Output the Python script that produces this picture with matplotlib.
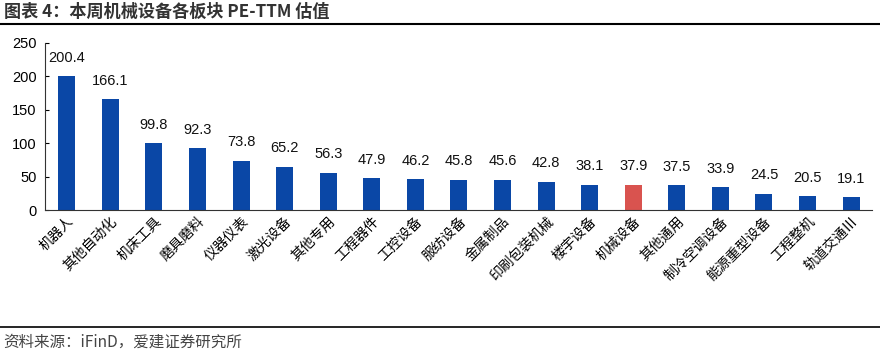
import matplotlib
matplotlib.use('Agg')
import matplotlib.pyplot as plt
from matplotlib.lines import Line2D

plt.rcParams['font.family'] = ['Liberation Sans', 'Noto Sans CJK SC', 'DejaVu Sans']

categories = ['机器人', '其他自动化', '机床工具', '磨具磨料', '仪器仪表', '激光设备', '其他专用',
              '工程器件', '工控设备', '服纺设备', '金属制品', '印刷包装机械', '楼宇设备', '机械设备',
              '其他通用', '制冷空调设备', '能源重型设备', '工程整机', '轨道交通Ⅲ']
values = [200.4, 166.1, 99.8, 92.3, 73.8, 65.2, 56.3, 47.9, 46.2, 45.8, 45.6, 42.8, 38.1,
          37.9, 37.5, 33.9, 24.5, 20.5, 19.1]
highlight = '机械设备'

blue = '#0a47a6'
red = '#d9534f'
colors = [red if c == highlight else blue for c in categories]

fig = plt.figure(figsize=(8.8, 3.55), dpi=100)
ax = fig.add_axes([0.051, 0.408, 0.94, 0.471])

x = range(len(categories))
ax.bar(x, values, width=0.39, color=colors)
for i, v in zip(x, values):
    ax.text(i, v + 17, f'{v:.1f}', ha='center', va='bottom', fontsize=10.5, color='#111111')

ax.set_xlim(-0.5, len(categories) - 0.52)
ax.set_ylim(0, 250)
ax.set_yticks([0, 50, 100, 150, 200, 250])
ax.tick_params(axis='y', direction='in', length=3, labelsize=10.5, pad=6)
ax.tick_params(axis='x', length=0, pad=3)
ax.set_xticks(list(x))
ax.set_xticklabels(categories, rotation=45, ha='right', va='top', fontsize=10,
                   rotation_mode='anchor', family=['Noto Sans CJK SC', 'DejaVu Sans'])
for s in ['top', 'right']:
    ax.spines[s].set_visible(False)
ax.spines['left'].set_color('#333333')
ax.spines['bottom'].set_color('#333333')

fig.text(0.004, 0.966, '图表 4：本周机械设备各板块 PE-TTM 估值', fontsize=12.3, fontweight='bold',
         ha='left', va='center', color='#333333', family=['Noto Sans CJK SC', 'DejaVu Sans'])
fig.add_artist(Line2D([0, 1], [0.932, 0.932], color='black', lw=1.5, transform=fig.transFigure))
fig.add_artist(Line2D([0, 1], [0.079, 0.079], color='black', lw=1.2, transform=fig.transFigure))
fig.text(0.004, 0.036, '资料来源：iFinD，爱建证券研究所', fontsize=11.2, ha='left', va='center',
         color='#444444', family=['Noto Sans CJK SC', 'DejaVu Sans'])

fig.savefig('out.png', dpi=100)
